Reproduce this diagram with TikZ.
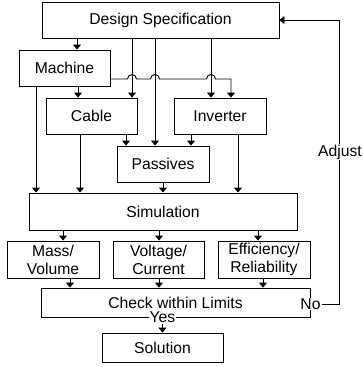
\documentclass[tikz,border=0pt]{standalone}
\usepackage{fontspec}
\setmainfont{Liberation Sans}
\usetikzlibrary{arrows.meta}
\begin{document}
\begin{tikzpicture}[x=1pt,y=-1pt,line width=0.9pt,
  txt/.style={font=\fontsize{15.7}{18}\selectfont},
  box/.style={draw,txt,inner sep=0pt,align=center},
  lbl/.style={txt,fill=white,inner sep=1pt},
  arr/.style={-{Triangle[width=8pt,length=5pt]}}]
\path[use as bounding box] (0,0) rectangle (362,367);
% boxes
\node[box,minimum width=237pt,minimum height=36pt] (ds) at (160.5,20) {Design Specification};
\node[box,minimum width=91pt,minimum height=36pt] (mach) at (64.5,68) {Machine};
\node[box,minimum width=91pt,minimum height=36pt] (cable) at (91.5,116) {Cable};
\node[box,minimum width=92pt,minimum height=36pt] (inv) at (220,116) {Inverter};
\node[box,minimum width=92pt,minimum height=36pt] (pass) at (163,164) {Passives};
\node[box,minimum width=268pt,minimum height=37pt] (sim) at (163,211.5) {Simulation};
\node[box,minimum width=92pt,minimum height=37pt] (mass) at (53,259.5) {Mass/\\Volume};
\node[box,minimum width=91pt,minimum height=37pt] (volt) at (158.5,259.5) {Voltage/\\Current};
\node[box,minimum width=92pt,minimum height=37pt] (eff) at (264,259.5) {Efficiency/\\Reliability};
\node[box,minimum width=269pt,minimum height=29pt] (check) at (175.5,302.5) {Check within Limits};
\node[box,minimum width=121pt,minimum height=29pt] (sol) at (162.5,347.5) {Solution};
% guide coordinates
\coordinate (xa) at (77,0);
\coordinate (xb) at (132,0);
\coordinate (xc) at (155,0);
\coordinate (xd) at (211,0);
\coordinate (xe) at (231,0);
\coordinate (xf) at (78,0);
\coordinate (xg) at (36,0);
\coordinate (xh) at (126,0);
\coordinate (xi) at (80,0);
\coordinate (xj) at (191,0);
\coordinate (xk) at (238,0);
\coordinate (xl) at (163,0);
\coordinate (ym) at (0,79);
% design spec outputs
\draw[arr] (ds.south -| xa) -- (mach.north -| xa);
\draw[arr] (ds.south -| xb) -- (cable.north -| xb);
\draw[arr] (ds.south -| xc) -- (pass.north -| xc);
\draw[arr] (ds.south -| xd) -- (inv.north -| xd);
% machine outputs
\draw[arr] (mach.east |- ym) -- ([xshift=-4.5pt]xb |- ym)
  arc[start angle=180,end angle=0,radius=4.5pt] -- ([xshift=-4.5pt]xc |- ym)
  arc[start angle=180,end angle=0,radius=4.5pt] -- ([xshift=-4.5pt]xd |- ym)
  arc[start angle=180,end angle=0,radius=4.5pt] -- (xe |- ym) -- (inv.north -| xe);
\draw[arr] (mach.south -| xf) -- (cable.north -| xf);
\draw[arr] (mach.south -| xg) -- (sim.north -| xg);
% cable, inverter, passives outputs
\draw[arr] (cable.south -| xh) -- (pass.north -| xh);
\draw[arr] (cable.south -| xi) -- (sim.north -| xi);
\draw[arr] (inv.south -| xj) -- (pass.north -| xj);
\draw[arr] (inv.south -| xk) -- (sim.north -| xk);
\draw[arr] (pass.south -| xl) -- (sim.north -| xl);
% simulation outputs
\coordinate (xm) at (63,0);
\coordinate (xn) at (159,0);
\coordinate (xo) at (258,0);
\coordinate (xp) at (70,0);
\coordinate (xq) at (263,0);
\draw[arr] (sim.south -| xm) -- (mass.north -| xm);
\draw[arr] (sim.south -| xn) -- (volt.north -| xn);
\draw[arr] (sim.south -| xo) -- (eff.north -| xo);
\draw[arr] (mass.south -| xp) -- (check.north -| xp);
\draw[arr] (volt.south -| xn) -- (check.north -| xn);
\draw[arr] (eff.south -| xq) -- (check.north -| xq);
% yes / no
\node[lbl] (yes) at (sol.north |- check.south) {Yes};
\draw[arr] (yes.south) -- (sol.north);
\node[lbl] (no) at ([yshift=-1.5pt]check.east) {No};
\coordinate (fb) at (339,0);
\coordinate (fbtop) at (fb |- ds.east);
\draw[arr] (no.east) -- (fb |- no.east) -- (fbtop) -- (ds.east);
\node[lbl] (adj) at (340,152) {Adjust};
\end{tikzpicture}
\end{document}
